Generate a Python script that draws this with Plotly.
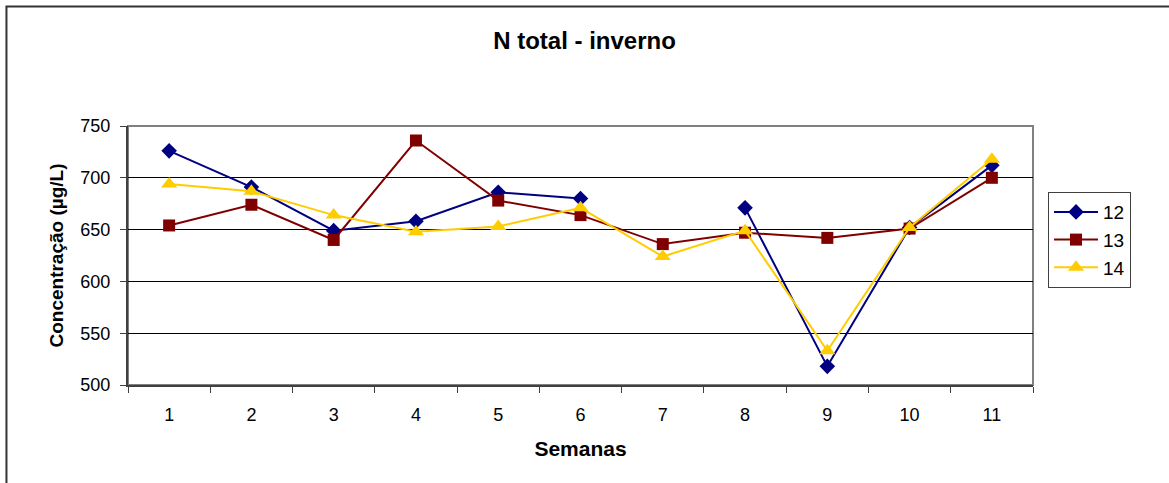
import plotly.graph_objects as go

weeks = ["1", "2", "3", "4", "5", "6", "7", "8", "9", "10", "11"]
s12 = [726, 691, 649, 658, 686, 680, None, 671, 518, 652, 712]
s13 = [654, 674, 640, 736, 678, 664, 636, 647, 642, 651, 700]
s14 = [694, 687, 664, 648, 653, 671, 624, 649, 533, 652, 718]

series = [
    ("12", s12, "#000080", "diamond", 12),
    ("13", s13, "#800000", "square", 12),
    ("14", s14, "#FFCC00", "triangle-up", 14),
]

fig = go.Figure()
for name, vals, color, sym, sz in series:
    fig.add_trace(go.Scatter(
        x=weeks, y=vals, name=name, mode="lines+markers",
        line=dict(color=color, width=2),
        marker=dict(symbol=sym, size=sz, color=color),
        connectgaps=False,
    ))

font = "Liberation Sans, Arial, sans-serif"
fig.update_layout(
    width=1169, height=483,
    margin=dict(l=128, r=136, t=126, b=98),
    paper_bgcolor="white", plot_bgcolor="white",
    font=dict(family=font, size=18, color="black"),
    title=dict(text="<b>N total - inverno</b>", x=0.5, xanchor="center",
               y=1 - 41 / 483, yanchor="middle", font=dict(size=24)),
    showlegend=True,
    legend=dict(x=1.0166, y=0.745, xanchor="left", yanchor="top",
                bordercolor="#404040", borderwidth=1, bgcolor="white",
                font=dict(size=19), tracegroupgap=0, itemwidth=44),
    xaxis=dict(type="category", tickson="boundaries", ticks="outside",
               range=[-0.5, len(weeks) - 0.5],
               ticklen=6, tickcolor="#404040", showline=True, linecolor="#404040",
               linewidth=2, showgrid=False, automargin=False,
               ticklabelstandoff=12,
               title=dict(text="<b>Semanas</b>", font=dict(size=21), standoff=18)),
    yaxis=dict(range=[500, 750], dtick=50, ticks="outside", ticklen=6,
               tickcolor="#404040", showline=True, linecolor="#404040", linewidth=2,
               showgrid=True, gridcolor="black", gridwidth=1, zeroline=False,
               automargin=False, ticklabelstandoff=6,
               title=dict(text="<b>Concentração (µg/L)</b>", font=dict(size=19), standoff=12)),
    shapes=[
        dict(type="rect", xref="paper", yref="paper", x0=0, x1=1, y0=0, y1=1,
             line=dict(color="#808080", width=2), layer="below"),
        dict(type="rect", xref="paper", yref="paper", x0=-0.1343, x1=1.2,
             y0=-0.5, y1=1.4614, line=dict(color="#333333", width=2)),
    ],
)

fig.write_html("out.html", config={"displayModeBar": False},
               post_script="document.body.style.margin='0';")
